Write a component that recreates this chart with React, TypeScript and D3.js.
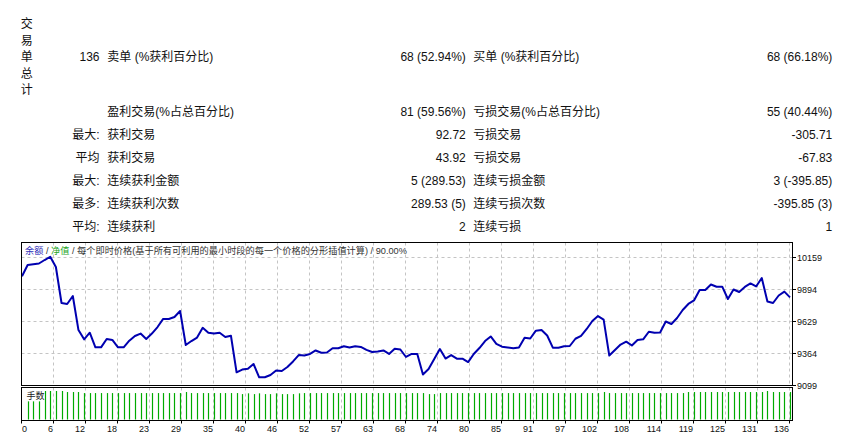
import React from "react";
import * as d3 from "d3";

// ---------- data ----------
const titleChars = ["交", "易", "单", "总", "计"];
const rowHeads = ["136", "", "最大:", "平均", "最大:", "最多:", "平均:"];
const leftNames = ["卖单 (%获利百分比)", "盈利交易(%占总百分比)", "获利交易", "获利交易", "连续获利金额", "连续获利次数", "连续获利"];
const leftValues = ["68 (52.94%)", "81 (59.56%)", "92.72", "43.92", "5 (289.53)", "289.53 (5)", "2"];
const rightNames = ["买单 (%获利百分比)", "亏损交易(%占总百分比)", "亏损交易", "亏损交易", "连续亏损金额", "连续亏损次数", "连续亏损"];
const rightValues = ["68 (66.18%)", "55 (40.44%)", "-305.71", "-67.83", "3 (-395.85)", "-395.85 (3)", "1"];

const balance = [
  10000, 10093, 10099, 10105, 10134, 10161, 10076, 9778, 9770, 9836,
  9554, 9477, 9532, 9411, 9411, 9480, 9472, 9411, 9411, 9466,
  9505, 9525, 9480, 9525, 9579, 9646, 9646, 9662, 9712, 9430,
  9463, 9492, 9573, 9532, 9525, 9532, 9496, 9507, 9204, 9227,
  9234, 9273, 9163, 9163, 9182, 9219, 9215, 9248, 9294, 9347,
  9343, 9356, 9385, 9366, 9368, 9403, 9403, 9420, 9410, 9420,
  9414, 9390, 9372, 9376, 9385, 9356, 9400, 9393, 9331, 9356,
  9356, 9186, 9232, 9314, 9397, 9318, 9347, 9317, 9317, 9289,
  9356, 9405, 9463, 9501, 9439, 9416, 9410, 9403, 9410, 9491,
  9484, 9549, 9554, 9509, 9408, 9408, 9420, 9422, 9482, 9506,
  9563, 9629, 9670, 9641, 9343, 9389, 9434, 9458, 9426, 9472,
  9477, 9540, 9532, 9534, 9625, 9604, 9654, 9720, 9770, 9799,
  9886, 9886, 9931, 9913, 9913, 9811, 9890, 9869, 9911, 9940,
  9915, 9985, 9790, 9778, 9840, 9872, 9825,
];

// lots per trade (trade 1..136)
const lots = [
  0.07, 0.07, 0.07, 0.11, 0.11, 0.11, 0.11, 0.106, 0.106, 0.106,
  0.102, 0.102, 0.102, 0.102, 0.102, 0.102, 0.102, 0.102, 0.102, 0.102,
  0.102, 0.102, 0.102, 0.102, 0.102, 0.102, 0.102, 0.102, 0.106, 0.102,
  0.102, 0.102, 0.102, 0.102, 0.102, 0.102, 0.102, 0.102, 0.098, 0.101,
  0.098, 0.101, 0.098, 0.098, 0.101, 0.098, 0.098, 0.098, 0.101, 0.102,
  0.102, 0.102, 0.102, 0.102, 0.102, 0.102, 0.102, 0.102, 0.102, 0.102,
  0.102, 0.102, 0.102, 0.102, 0.102, 0.102, 0.102, 0.102, 0.102, 0.102,
  0.102, 0.098, 0.098, 0.102, 0.102, 0.102, 0.102, 0.102, 0.102, 0.102,
  0.102, 0.102, 0.102, 0.102, 0.102, 0.102, 0.102, 0.102, 0.102, 0.102,
  0.102, 0.102, 0.102, 0.102, 0.102, 0.102, 0.102, 0.102, 0.102, 0.102,
  0.102, 0.102, 0.106, 0.102, 0.102, 0.102, 0.102, 0.102, 0.102, 0.102,
  0.102, 0.102, 0.102, 0.102, 0.102, 0.102, 0.102, 0.106, 0.106, 0.106,
  0.106, 0.106, 0.106, 0.106, 0.106, 0.106, 0.106, 0.106, 0.106, 0.106,
  0.106, 0.11, 0.106, 0.106, 0.106, 0.106,
];

const yTicks = [9099, 9364, 9629, 9894, 10159];
const xTickLabels = ["0", "6", "12", "18", "23", "29", "35", "40", "46", "52", "57", "63", "68", "74", "80", "85", "91", "97", "102", "108", "114", "119", "125", "131", "136"];
const legendParts = [
  { text: "余额", color: "#2f2fb8" },
  { text: " / ", color: "#333" },
  { text: "净值", color: "#1fa51f" },
  { text: " / 每个即时价格(基于所有可利用的最小时段的每一个价格的分形插值计算) / 90.00%", color: "#333" },
];

// ---------- layout ----------
const W = 847, H = 441;
const PL = 21.5, PR = 792.5;
const MT = 242.5, MB = 385.5;
const VT = 387.5, VB = 420.5;
const rowY = [56.7, 111.7, 135, 157.7, 181, 204.3, 226.7];
const titleY0 = 24.3, titleStep = 16.4;

const txtFont = "'Liberation Sans', 'Noto Sans CJK SC', sans-serif";

export default function App() {
  const x = d3.scaleLinear().domain([0, balance.length - 1]).range([22, 790]);
  const y = d3.scaleLinear().domain([9099, 10159]).range([385, 257]);
  const yv = d3.scaleLinear().domain([0, 0.12]).range([419.5, 388.4]);
  const xg = d3.scalePoint<string>().domain(xTickLabels).range([PL, 789.5]);

  const line = d3.line<number>().x((_, i) => x(i)).y((d) => y(d));

  return (
    <svg width={W} height={H} style={{ position: "absolute", left: 0, top: 0, background: "#fff" }}
      fontFamily={txtFont}>
      <rect x={0} y={0} width={W} height={H} fill="#fff" />
      {/* report table */}
      <g fontSize={12} fill="#111" dominantBaseline="central">
        {titleChars.map((c, i) => (
          <text key={"t" + i} x={26.8} y={titleY0 + i * titleStep} textAnchor="middle">{c}</text>
        ))}
        {rowY.map((ry, i) => (
          <g key={"r" + i}>
            {rowHeads[i] && <text x={99.5} y={ry} textAnchor="end">{rowHeads[i]}</text>}
            <text x={107.3} y={ry}>{leftNames[i]}</text>
            <text x={465.8} y={ry} textAnchor="end">{leftValues[i]}</text>
            <text x={473.3} y={ry}>{rightNames[i]}</text>
            <text x={832.3} y={ry} textAnchor="end">{rightValues[i]}</text>
          </g>
        ))}
      </g>

      {/* grid main */}
      <g stroke="#c4c4c4" strokeDasharray="3,3" strokeWidth={1}>
        {yTicks.slice(1).map((t) => (
          <line key={"hg" + t} x1={PL} x2={PR} y1={Math.round(y(t)) + 0.5} y2={Math.round(y(t)) + 0.5} />
        ))}
        {xTickLabels.slice(1).map((l) => (
          <g key={"vg" + l}>
            <line x1={xg(l)!} x2={xg(l)!} y1={MT} y2={MB} />
            <line x1={xg(l)!} x2={xg(l)!} y1={VT} y2={VB} />
          </g>
        ))}
      </g>

      {/* volume bars */}
      <g stroke="#00aa00" strokeWidth={1.2}>
        {lots.map((v, i) => {
          const xx = Math.round(x(i + 1)) + 0.5;
          return <line key={"b" + i} x1={xx} x2={xx} y1={yv(0)} y2={yv(v)} />;
        })}
      </g>

      {/* balance line */}
      <path d={line(balance) || ""} fill="none" stroke="#0000b0" strokeWidth={2} strokeLinejoin="round" />

      {/* frames */}
      <g fill="none" stroke="#000" strokeWidth={1}>
        <rect x={PL} y={MT} width={PR - PL} height={MB - MT} />
        <rect x={PL} y={VT} width={PR - PL} height={VB - VT} />
      </g>

      {/* right axis */}
      <g fontSize={9} fill="#111" dominantBaseline="central">
        {yTicks.map((t) => (
          <g key={"yt" + t}>
            <line x1={PR} x2={PR + 3.5} y1={Math.round(y(t)) + 0.5} y2={Math.round(y(t)) + 0.5} stroke="#000" />
            <text x={797} y={y(t) + 0.5}>{t}</text>
          </g>
        ))}
      </g>

      {/* bottom axis */}
      <g fontSize={9} fill="#111" dominantBaseline="central">
        {xTickLabels.map((l, i) => (
          <g key={"xt" + l}>
            <line x1={xg(l)!} x2={xg(l)!} y1={VB} y2={VB + 3} stroke="#000" />
            <text x={i === 0 ? xg(l)! + 0.5 : xg(l)! - 0.5} y={429.3} textAnchor={i === 0 ? "start" : "end"}>{l}</text>
          </g>
        ))}
      </g>

      {/* legend */}
      <text x={25} y={250.8} fontSize={9.2} dominantBaseline="central">
        {legendParts.map((p, i) => (
          <tspan key={"lg" + i} fill={p.color}>{p.text}</tspan>
        ))}
      </text>
      <text x={26.5} y={395.7} fontSize={9} fill="#222" dominantBaseline="central">手数</text>
    </svg>
  );
}
